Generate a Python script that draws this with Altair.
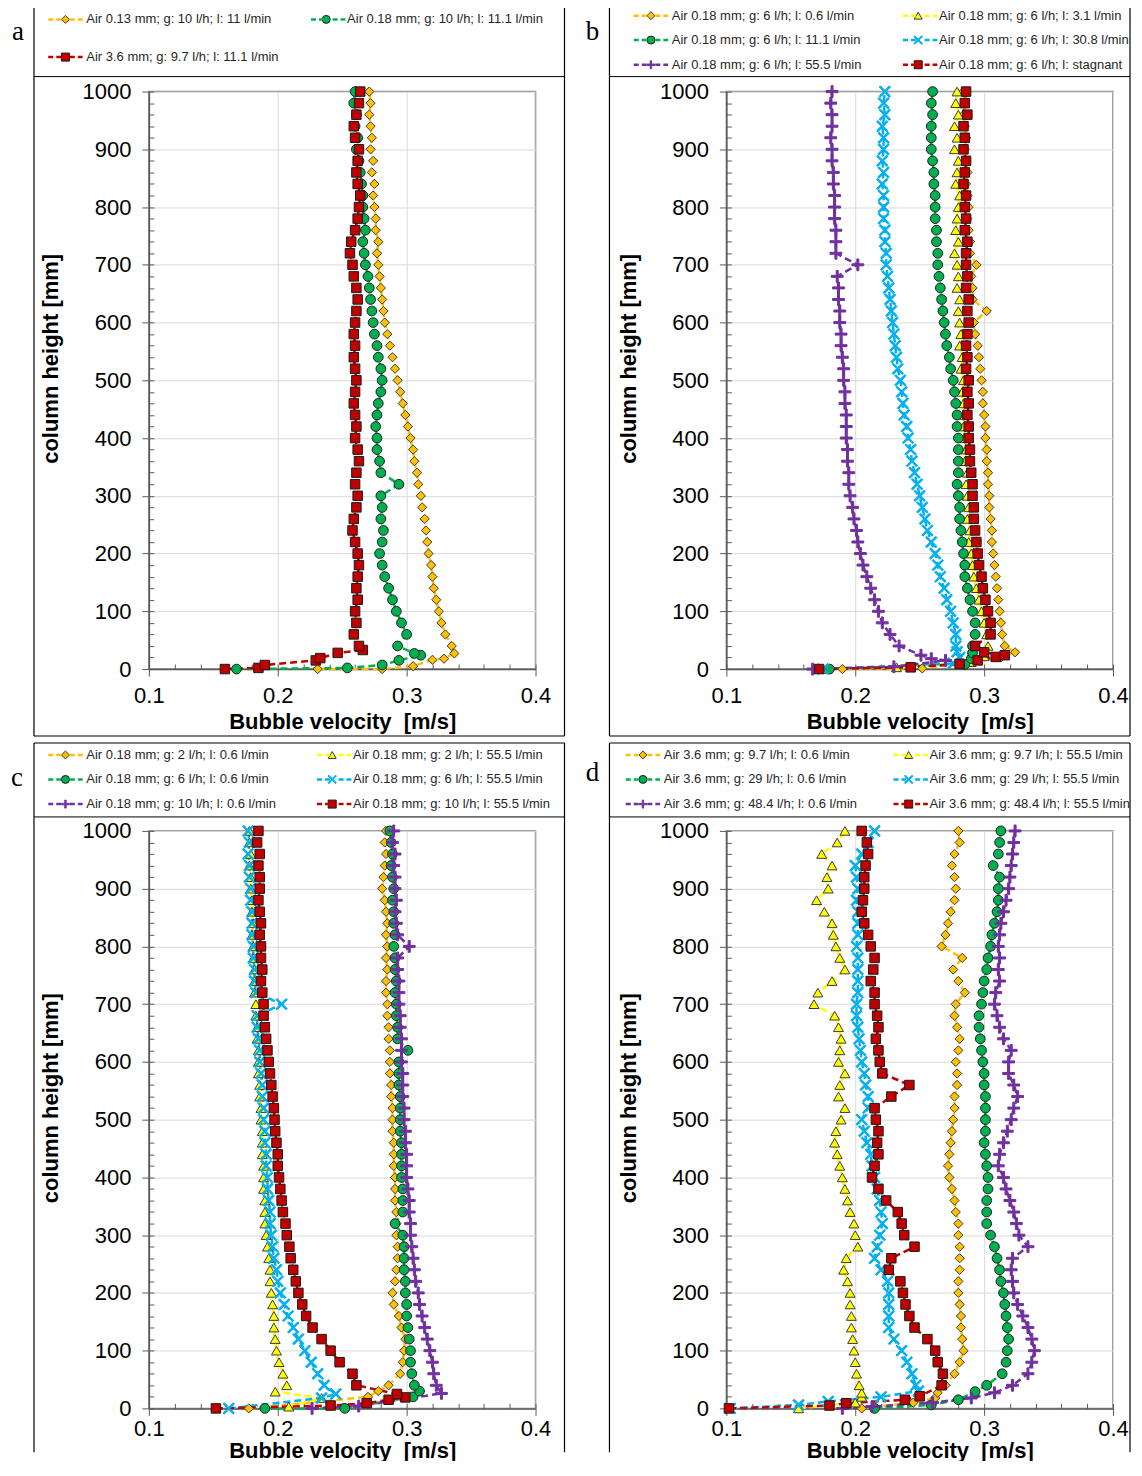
import json
import altair as alt
import pandas as pd

FONT = "Liberation Sans"
SERIF = "Liberation Serif"

# measurement heights (mm) of the profile points, top to bottom
HEIGHTS = [1000, 980, 960, 940, 920, 900, 880, 860, 840, 820,
           800, 780, 760, 740, 720, 700, 680, 660, 640, 620,
           600, 580, 560, 540, 520, 500, 480, 460, 440, 420,
           400, 380, 360, 340, 320, 300, 280, 260, 240, 220,
           200, 180, 160, 140, 120, 100, 80, 60, 40]

# ---------------- panel a ----------------
A_LABELS = ["Air 0.13 mm; g: 10 l/h; l: 11 l/min",
            "Air 0.18 mm; g: 10 l/h; l: 11.1 l/min",
            "Air 3.6 mm; g: 9.7 l/h; l: 11.1 l/min"]
A_ORANGE = [.271, .272, .271, .272, .273, .272, .274, .273, .275, .274,
            .275, .276, .276, .278, .277, .278, .279, .280, .281, .282,
            .283, .285, .287, .289, .291, .293, .295, .297, .299, .301,
            .303, .305, .306, .308, .309, .311, .312, .314, .315, .316,
            .317, .319, .320, .321, .323, .325, .327, .330, .335]
A_ORANGE_LOW_H = [0, 0, 5, 16, 18, 27]
A_ORANGE_LOW_V = [.231, .281, .305, .320, .329, .337]
A_GREEN = [.260, .259, .261, .260, .262, .261, .263, .264, .265, .266,
           .266, .267, .268, .266, .267, .268, .270, .271, .272, .273,
           .274, .275, .277, .278, .280, .281, .280, .278, .277, .276,
           .277, .277, .279, .280, .294, .280, .281, .280, .282, .281,
           .279, .281, .283, .286, .289, .292, .296, .300, .293]
A_GREEN_LOW_H = [0, 2, 7, 15, 24, 27]
A_GREEN_LOW_V = [.168, .254, .281, .294, .311, .306]
A_RED = [.264, .263, .261, .259, .260, .263, .262, .261, .262, .264,
         .263, .262, .260, .257, .256, .258, .259, .261, .262, .261,
         .260, .259, .260, .259, .260, .261, .260, .259, .260, .261,
         .260, .262, .263, .261, .260, .262, .261, .259, .258, .260,
         .262, .263, .262, .261, .262, .260, .261, .259, .263]
A_RED_LOW_H = [0, 2, 7, 15, 19, 28, 33]
A_RED_LOW_V = [.159, .185, .190, .2295, .233, .2465, .266]

# ---------------- panel b ----------------
B_LABELS = ["Air 0.18 mm; g: 6 l/h; l: 0.6 l/min",
            "Air 0.18 mm; g: 6 l/h; l: 3.1 l/min",
            "Air 0.18 mm; g: 6 l/h; l: 11.1 l/min",
            "Air 0.18 mm; g: 6 l/h; l: 30.8 l/min",
            "Air 0.18 mm; g: 6 l/h; l: 55.5 l/min",
            "Air 0.18 mm; g: 6 l/h; l: stagnant"]
B_ORANGE = [.284, .285, .284, .285, .286, .285, .286, .287, .286, .287,
            .288, .287, .288, .289, .289, .294, .290, .291, .291, .302,
            .292, .293, .295, .296, .297, .298, .299, .299, .300, .301,
            .301, .302, .302, .303, .303, .304, .304, .305, .306, .306,
            .307, .308, .309, .310, .311, .312, .313, .314, .316]
B_ORANGE_LOW_H = [0, 1, 20, 29]
B_ORANGE_LOW_V = [.190, .252, .313, .324]
B_YELLOW = [.279, .278, .280, .277, .279, .277, .280, .279, .278, .281,
            .280, .279, .278, .280, .277, .279, .280, .279, .281, .280,
            .281, .282, .281, .283, .282, .284, .283, .284, .285, .284,
            .285, .286, .285, .287, .286, .287, .288, .287, .289, .288,
            .290, .291, .292, .294, .296, .298, .300, .302, .303]
B_YELLOW_LOW_H = [0, 3, 12, 22]
B_YELLOW_LOW_V = [.178, .232, .290, .300]
B_GREEN = [.260, .259, .260, .259, .259, .259, .260, .261, .261, .262,
           .262, .262, .263, .263, .264, .264, .265, .266, .267, .268,
           .269, .270, .271, .273, .274, .276, .277, .278, .279, .279,
           .280, .280, .280, .280, .279, .280, .281, .281, .282, .283,
           .284, .285, .285, .287, .289, .291, .293, .293, .291]
B_GREEN_LOW_H = [0, 8, 18, 28]
B_GREEN_LOW_V = [.180, .285, .290, .291]
B_CYAN = [.223, .222, .223, .221, .222, .222, .221, .222, .221, .222,
          .222, .222, .223, .223, .224, .224, .225, .226, .227, .228,
          .229, .230, .231, .232, .233, .235, .236, .237, .238, .240,
          .241, .243, .244, .246, .248, .250, .252, .254, .256, .259,
          .262, .264, .266, .269, .271, .274, .276, .278, .278]
B_CYAN_LOW_H = [0, 10, 20, 30]
B_CYAN_LOW_V = [.175, .276, .281, .279]
B_PURPLE = [.182, .181, .182, .182, .181, .182, .182, .183, .183, .184,
            .184, .184, .185, .185, .185, .202, .186, .187, .187, .188,
            .188, .189, .189, .190, .191, .191, .192, .192, .193, .193,
            .193, .194, .194, .195, .195, .196, .198, .199, .201, .202,
            .204, .206, .209, .212, .215, .218, .221, .227, .234]
B_PURPLE_LOW_H = [0, 4, 15, 18, 24]
B_PURPLE_LOW_V = [.167, .230, .270, .259, .251]
B_RED = [.286, .285, .287, .284, .285, .284, .286, .285, .284, .286,
         .285, .286, .285, .287, .286, .286, .287, .286, .288, .287,
         .288, .287, .286, .287, .286, .288, .287, .288, .287, .288,
         .288, .289, .289, .290, .291, .291, .292, .292, .293, .294,
         .295, .296, .298, .299, .301, .303, .305, .305, .293]
B_RED_LOW_H = [0, 3, 9, 15, 21, 24, 29]
B_RED_LOW_V = [.172, .243, .281, .295, .309, .316, .300]

# ---------------- panel c ----------------
C_LABELS = ["Air 0.18 mm; g: 2 l/h; l: 0.6 l/min",
            "Air 0.18 mm; g: 2 l/h; l: 55.5 l/min",
            "Air 0.18 mm; g: 6 l/h; l: 0.6 l/min",
            "Air 0.18 mm; g: 6 l/h; l: 55.5 l/min",
            "Air 0.18 mm; g: 10 l/h; l: 0.6 l/min",
            "Air 0.18 mm; g: 10 l/h; l: 55.5 l/min"]
C_ORANGE = [.284, .283, .284, .283, .282, .281, .283, .284, .285, .284,
            .285, .284, .285, .284, .284, .285, .285, .286, .286, .287,
            .287, .287, .288, .288, .289, .289, .289, .290, .290, .290,
            .291, .291, .291, .292, .292, .292, .293, .293, .292, .291,
            .289, .290, .294, .296, .299, .298, .297, .295, .286]
C_ORANGE_LOW_H = [0, 20, 30]
C_ORANGE_LOW_V = [.1775, .270, .278]
C_YELLOW = [.178, .178, .179, .178, .179, .179, .180, .180, .181, .180,
            .181, .181, .182, .182, .182, .183, .183, .184, .184, .185,
            .185, .185, .186, .186, .187, .187, .188, .188, .188, .189,
            .189, .189, .190, .190, .190, .191, .192, .193, .194, .194,
            .195, .196, .197, .197, .198, .199, .201, .204, .207]
C_YELLOW_LOW_H = [3, 18, 29]
C_YELLOW_LOW_V = [.2085, .234, .198]
C_GREEN = [.287, .288, .289, .288, .289, .290, .289, .290, .290, .291,
           .290, .291, .291, .292, .291, .292, .292, .293, .293, .301,
           .294, .294, .294, .295, .295, .295, .295, .296, .296, .296,
           .296, .297, .297, .297, .291, .297, .298, .298, .298, .299,
           .299, .300, .300, .301, .302, .303, .303, .304, .306]
C_GREEN_LOW_H = [0, 0, 20, 30]
C_GREEN_LOW_V = [.190, .252, .305, .310]
C_CYAN = [.177, .178, .177, .178, .178, .179, .179, .180, .180, .180,
          .181, .181, .182, .182, .183, .203, .184, .184, .185, .186,
          .186, .187, .188, .188, .189, .189, .190, .190, .191, .191,
          .192, .192, .193, .194, .194, .195, .196, .197, .199, .200,
          .202, .205, .208, .212, .216, .221, .226, .231, .236]
C_CYAN_LOW_H = [0, 18, 25]
C_CYAN_LOW_V = [.162, .234, .245]
C_PURPLE = [.290, .289, .291, .290, .291, .291, .292, .291, .292, .293,
            .302, .293, .293, .294, .294, .294, .295, .295, .296, .296,
            .296, .297, .297, .297, .298, .298, .299, .299, .300, .300,
            .300, .301, .302, .302, .303, .303, .304, .305, .306, .307,
            .309, .310, .312, .314, .316, .318, .320, .321, .323]
C_PURPLE_LOW_H = [0, 4, 26]
C_PURPLE_LOW_V = [.2266, .2628, .327]
C_RED = [.185, .184, .186, .185, .186, .186, .185, .186, .187, .186,
         .187, .187, .188, .187, .188, .189, .189, .190, .191, .192,
         .193, .194, .195, .196, .197, .1975, .198, .199, .200, .200,
         .201, .202, .203, .204, .206, .207, .209, .210, .212, .214,
         .216, .219, .222, .227, .234, .241, .248, .258, .261]
C_RED_LOW_H = [0, 5, 9, 15, 19, 25]
C_RED_LOW_V = [.152, .241, .269, .286, .299, .2925]

# ---------------- panel d ----------------
D_LABELS = ["Air 3.6 mm; g: 9.7 l/h; l: 0.6 l/min",
            "Air 3.6 mm; g: 9.7 l/h; l: 55.5 l/min",
            "Air 3.6 mm; g: 29 l/h; l: 0.6 l/min",
            "Air 3.6 mm; g: 29 l/h; l: 55.5 l/min",
            "Air 3.6 mm; g: 48.4 l/h; l: 0.6 l/min",
            "Air 3.6 mm; g: 48.4 l/h; l: 55.5 l/min"]
D_ORANGE = [.280, .281, .277, .275, .277, .278, .277, .274, .272, .270,
            .267, .283, .276, .280, .285, .278, .277, .279, .281, .280,
            .278, .279, .279, .277, .277, .276, .275, .274, .273, .272,
            .273, .275, .277, .278, .280, .280, .281, .281, .281, .280,
            .280, .281, .282, .282, .283, .284, .281, .277, .270]
D_ORANGE_LOW_H = [0, 10, 18, 27]
D_ORANGE_LOW_V = [.205, .245, .262, .264]
D_YELLOW = [.192, .186, .174, .182, .178, .179, .170, .176, .182, .183,
            .185, .188, .192, .182, .171, .168, .184, .187, .189, .188,
            .187, .192, .188, .187, .192, .189, .185, .184, .186, .188,
            .190, .192, .194, .196, .199, .200, .202, .193, .191, .194,
            .196, .196, .197, .197, .198, .199, .200, .201, .203]
D_YELLOW_LOW_H = [0, 10, 20, 27]
D_YELLOW_LOW_V = [.156, .200, .205, .205]
D_GREEN = [.313, .312, .311, .307, .312, .311, .311, .310, .308, .306,
           .305, .303, .302, .300, .299, .298, .296, .296, .297, .298,
           .299, .300, .300, .301, .301, .301, .301, .300, .301, .302,
           .303, .303, .302, .302, .302, .305, .308, .310, .312, .313,
           .315, .316, .317, .318, .319, .318, .317, .314, .302]
D_GREEN_LOW_H = [0, 6, 15, 29]
D_GREEN_LOW_V = [.215, .259, .280, .293]
D_CYAN = [.215, .210, .205, .200, .201, .202, .201, .202, .202, .202,
          .201, .202, .202, .202, .202, .201, .201, .202, .203, .204,
          .205, .207, .208, .210, .210, .205, .207, .209, .212, .213,
          .215, .217, .219, .220, .221, .219, .217, .215, .220, .225,
          .226, .226, .226, .226, .230, .236, .240, .244, .247]
D_CYAN_LOW_H = [0, 6, 12, 20, 30]
D_CYAN_LOW_V = [.103, .156, .179, .220, .249]
D_PURPLE = [.324, .323, .322, .321, .320, .319, .317, .315, .313, .312,
            .311, .312, .311, .312, .309, .308, .310, .312, .315, .321,
            .319, .319, .323, .326, .323, .321, .318, .315, .312, .311,
            .315, .317, .320, .323, .325, .327, .334, .322, .321, .322,
            .323, .326, .330, .334, .337, .339, .337, .334, .322]
D_PURPLE_LOW_H = [0, 3, 10, 18, 27]
D_PURPLE_LOW_V = [.190, .213, .260, .290, .308]
D_RED = [.205, .209, .210, .208, .207, .207, .206, .205, .207, .210,
         .212, .215, .214, .212, .215, .215, .217, .218, .216, .218,
         .219, .221, .242, .228, .215, .216, .218, .217, .218, .215,
         .213, .218, .224, .233, .236, .238, .246, .228, .226, .235,
         .237, .239, .242, .246, .256, .262, .264, .268, .267]
D_RED_LOW_H = [0, 5, 9, 15, 21]
D_RED_LOW_V = [.102, .180, .193, .2385, .250]

X_TICKS = [0.1, 0.2, 0.3, 0.4]
Y_TICKS = [0, 100, 200, 300, 400, 500, 600, 700, 800, 900, 1000]

# ---------------- styling ----------------
X_PATH = ("M-0.841,-1.068L0,-0.226L0.841,-1.068L1.068,-0.841L0.226,0L1.068,0.841"
          "L0.841,1.068L0,0.226L-0.841,1.068L-1.068,0.841L-0.226,0L-1.068,-0.841Z")
PLUS_PATH = "M-1,-0.17H-0.17V-1H0.17V-0.17H1V0.17H0.17V1H-0.17V0.17H-1Z"
LINE_SYM = "M-4.3,0H-1.1M1.1,0H4.3"

STYLES = {
    "orange": dict(color="#FFC000", shape="diamond", outline="#3a3a3a", size=85),
    "yellow": dict(color="#FFFF00", shape="triangle-up", outline="#3a3a3a", size=100),
    "green": dict(color="#00B050", shape="circle", outline="#1f1f1f", size=95),
    "cyan": dict(color="#00B0F0", shape=X_PATH, outline="#00B0F0", size=115),
    "purple": dict(color="#7030A0", shape=PLUS_PATH, outline="#7030A0", size=140),
    "red": dict(color="#C00000", shape="square", outline="#1a1a1a", size=90),
}
AXC = "#595959"
W, H = 387, 578

X_MINOR = [round(0.1 + 0.02 * i, 2) for i in range(16)]
Y_MINOR = [20 * i for i in range(51)]

CHANNELS = ["color", "fill", "stroke", "shape"]
LINE_COL_SHIFT = 14  # the long line symbol widens the legend's second column offset


def make_panel(series, letter, cfg):
    rows = []
    for label, key, vals, low_h, low_v in series:
        for h, v in zip(low_h, low_v):
            rows.append({"series": label, "h": h, "v": v})
        for h, v in zip(HEIGHTS, vals):
            rows.append({"series": label, "h": h, "v": v})
    df = pd.DataFrame(rows)
    labels = [s[0] for s in series]
    keys = [s[1] for s in series]
    colors = [STYLES[k]["color"] for k in keys]
    outlines = [STYLES[k]["outline"] for k in keys]
    shapes = [STYLES[k]["shape"] for k in keys]
    sizes = [STYLES[k]["size"] for k in keys]
    size_expr = "%s[indexof(%s, datum.series)]" % (json.dumps(sizes), json.dumps(labels))

    xs = alt.Scale(domain=[0.1, 0.4], nice=False, zero=False)
    ys = alt.Scale(domain=[0, 1000], nice=False, zero=False)

    leg = dict(orient="none", legendX=cfg["lx"], legendY=cfg["ly"], columns=2,
               direction="horizontal", title=None, padding=0, symbolSize=64,
               labelFont=FONT, labelFontSize=13, labelLimit=500,
               labelOffset=14.4, rowPadding=cfg["rp"], values=labels)
    line_leg = alt.Legend(symbolType=LINE_SYM, symbolStrokeWidth=2.5,
                          symbolDash=[5, 3], labelOpacity=0,
                          columnPadding=cfg["cp"] - LINE_COL_SHIFT, **leg)
    pt_leg = alt.Legend(symbolStrokeWidth=1, labelColor="#262626",
                        columnPadding=cfg["cp"], **leg)

    ax_x = alt.Axis(orient="bottom", values=X_TICKS, format=".1f", tickSize=7,
                    tickColor=AXC, domainColor=AXC, domainWidth=1.5, grid=True,
                    gridColor="#d9d9d9", labelFont=FONT, labelFontSize=22,
                    labelColor="#000000", labelPadding=cfg["lp"], labelFlush=False,
                    labelOverlap=False, title="Bubble velocity\u00a0 [m/s]",
                    titleFont=FONT, titleFontSize=22, titleFontWeight="bold",
                    titleColor="#000000", titleY=cfg["tx"], titleBaseline="middle")
    ax_y = alt.Axis(orient="left", values=Y_TICKS, format="d", tickSize=7,
                    tickColor=AXC, domainColor=AXC, domainWidth=1.5, grid=True,
                    gridColor="#d9d9d9", labelFont=FONT, labelFontSize=22,
                    labelColor="#000000", labelPadding=11, labelFlush=False,
                    labelOverlap=False, title="column height [mm]",
                    titleFont=FONT, titleFontSize=22, titleFontWeight="bold",
                    titleColor="#000000", titleX=-98, titleY=cfg["ty"],
                    titleAlign="center", titleBaseline="middle")
    # inward-pointing minor ticks: opposite-side axes moved onto the plot edges
    ax_x_minor = alt.Axis(orient="top", offset=-H, values=X_MINOR, labels=False,
                          domain=False, grid=False, tickSize=5, tickColor=AXC,
                          title=None)
    ax_y_minor = alt.Axis(orient="right", offset=-W, values=Y_MINOR, labels=False,
                          domain=False, grid=False, tickSize=5, tickColor=AXC,
                          title=None)

    one = pd.DataFrame({"k": [0]})
    fx0, fx1, fy0, fy1 = cfg["frame"]
    deco = [
        alt.Chart(one).mark_rule(stroke="#000000", strokeWidth=1.2).encode(
            x=alt.value(fx0), x2=alt.value(fx1), y=alt.value(fy0)),
        alt.Chart(one).mark_rule(stroke="#000000", strokeWidth=1.2).encode(
            x=alt.value(fx0), y=alt.value(fy0), y2=alt.value(fy1)),
        alt.Chart(one).mark_rule(stroke="#000000", strokeWidth=1.2).encode(
            x=alt.value(fx1), y=alt.value(fy0), y2=alt.value(fy1)),
        alt.Chart(one).mark_rule(stroke="#000000", strokeWidth=1).encode(
            x=alt.value(fx0), x2=alt.value(fx1), y=alt.value(cfg["sep"])),
        alt.Chart(one).mark_text(font=SERIF, fontSize=27, align="center",
                                 baseline="alphabetic", color="#000000").encode(
            x=alt.value(cfg["tag"][0]), y=alt.value(cfg["tag"][1]), text=alt.value(letter)),
    ]
    if cfg["bottom"]:
        deco.append(alt.Chart(one).mark_rule(stroke="#000000", strokeWidth=1.2).encode(
            x=alt.value(fx0), x2=alt.value(fx1), y=alt.value(fy1)))

    lines = alt.Chart(df).transform_calculate(ln="datum.series").mark_line(
        strokeDash=[7, 4], strokeWidth=2.5).encode(
        x=alt.X("v:Q", scale=xs, axis=ax_x),
        y=alt.Y("h:Q", scale=ys, axis=ax_y),
        color=alt.Color("ln:N", scale=alt.Scale(domain=labels, range=colors),
                        legend=line_leg),
        order=alt.Order("h:Q"),
    )
    points = alt.Chart(df).transform_calculate(sz=size_expr).mark_point(
        filled=True, opacity=1, strokeWidth=1).encode(
        x=alt.X("v:Q", scale=xs, axis=ax_x_minor),
        y=alt.Y("h:Q", scale=ys, axis=ax_y_minor),
        fill=alt.Fill("series:N", scale=alt.Scale(domain=labels, range=colors), legend=pt_leg),
        stroke=alt.Stroke("series:N", scale=alt.Scale(domain=labels, range=outlines), legend=pt_leg),
        shape=alt.Shape("series:N", scale=alt.Scale(domain=labels, range=shapes), legend=pt_leg),
        size=alt.Size("sz:Q", scale=None),
    )
    return alt.layer(*deco, lines, points).resolve_legend(
        color="independent").properties(width=W, height=H)


pa = make_panel([
    (A_LABELS[0], "orange", A_ORANGE, A_ORANGE_LOW_H, A_ORANGE_LOW_V),
    (A_LABELS[1], "green", A_GREEN, A_GREEN_LOW_H, A_GREEN_LOW_V),
    (A_LABELS[2], "red", A_RED, A_RED_LOW_H, A_RED_LOW_V),
], "a", dict(lx=-90, ly=-79, cp=40, rp=24, ty=267, tx=52, lp=9, bottom=True,
             frame=(-115, 416, -85.5, 645), sep=-15, tag=(-131, -52)))

pb = make_panel([
    (B_LABELS[0], "orange", B_ORANGE, B_ORANGE_LOW_H, B_ORANGE_LOW_V),
    (B_LABELS[1], "yellow", B_YELLOW, B_YELLOW_LOW_H, B_YELLOW_LOW_V),
    (B_LABELS[2], "green", B_GREEN, B_GREEN_LOW_H, B_GREEN_LOW_V),
    (B_LABELS[3], "cyan", B_CYAN, B_CYAN_LOW_H, B_CYAN_LOW_V),
    (B_LABELS[4], "purple", B_PURPLE, B_PURPLE_LOW_H, B_PURPLE_LOW_V),
    (B_LABELS[5], "red", B_RED, B_RED_LOW_H, B_RED_LOW_V),
], "b", dict(lx=-82, ly=-82.75, cp=49.5, rp=10.7, ty=267, tx=52, lp=9, bottom=True,
             frame=(-117, 404, -85.5, 645), sep=-15, tag=(-134, -52)))

pc = make_panel([
    (C_LABELS[0], "orange", C_ORANGE, C_ORANGE_LOW_H, C_ORANGE_LOW_V),
    (C_LABELS[1], "yellow", C_YELLOW, C_YELLOW_LOW_H, C_YELLOW_LOW_V),
    (C_LABELS[2], "green", C_GREEN, C_GREEN_LOW_H, C_GREEN_LOW_V),
    (C_LABELS[3], "cyan", C_CYAN, C_CYAN_LOW_H, C_CYAN_LOW_V),
    (C_LABELS[4], "purple", C_PURPLE, C_PURPLE_LOW_H, C_PURPLE_LOW_V),
    (C_LABELS[5], "red", C_RED, C_RED_LOW_H, C_RED_LOW_V),
], "c", dict(lx=-90, ly=-82.75, cp=49, rp=10.7, ty=267, tx=42, lp=3, bottom=False,
             frame=(-115, 416, -88, 622), sep=-14, tag=(-132, -45)))

pd_ = make_panel([
    (D_LABELS[0], "orange", D_ORANGE, D_ORANGE_LOW_H, D_ORANGE_LOW_V),
    (D_LABELS[1], "yellow", D_YELLOW, D_YELLOW_LOW_H, D_YELLOW_LOW_V),
    (D_LABELS[2], "green", D_GREEN, D_GREEN_LOW_H, D_GREEN_LOW_V),
    (D_LABELS[3], "cyan", D_CYAN, D_CYAN_LOW_H, D_CYAN_LOW_V),
    (D_LABELS[4], "purple", D_PURPLE, D_PURPLE_LOW_H, D_PURPLE_LOW_V),
    (D_LABELS[5], "red", D_RED, D_RED_LOW_H, D_RED_LOW_V),
], "d", dict(lx=-90, ly=-82.75, cp=44, rp=10.7, ty=267, tx=42, lp=3, bottom=False,
             frame=(-117, 404, -88, 622), sep=-14, tag=(-134, -50)))

chart = alt.concat(
    pa, pb, pc, pd_, columns=2,
    spacing={"row": 162, "column": 191}, bounds="flush",
).resolve_scale(
    **{c: "independent" for c in CHANNELS}
).resolve_legend(
    **{c: "independent" for c in CHANNELS}
).properties(
    padding={"left": 2, "top": -4, "right": 0, "bottom": -2},
    background="#ffffff",
).configure_view(stroke="#7f7f7f", strokeWidth=1.5)

chart.save("out.html", embed_options={"renderer": "svg", "actions": False})
